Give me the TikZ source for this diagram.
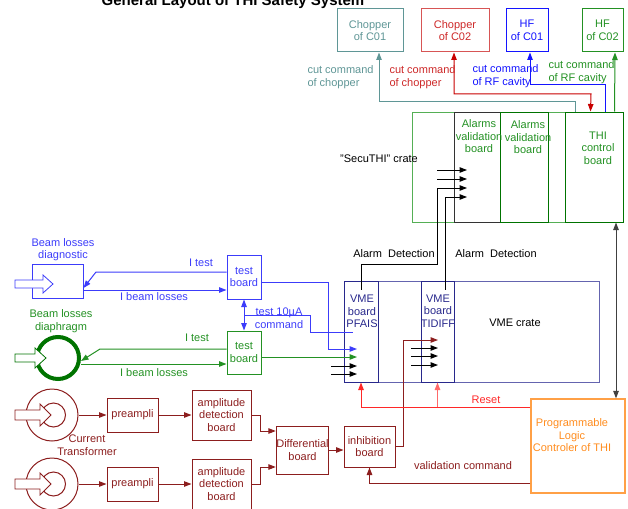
\documentclass[tikz,border=0pt]{standalone}
\usepackage{fontspec}
\setmainfont{Liberation Sans}
\usetikzlibrary{arrows.meta,positioning}

\definecolor{cteal}{RGB}{95,150,150}
\definecolor{cred}{RGB}{205,40,40}
\definecolor{credbox}{RGB}{215,85,85}
\definecolor{cdarkred}{RGB}{200,0,0}
\definecolor{cblue}{RGB}{20,20,255}
\definecolor{cbeam}{RGB}{60,60,250}
\definecolor{cgreen}{RGB}{35,145,35}
\definecolor{cdkgreen}{RGB}{0,115,0}
\definecolor{clgreen}{RGB}{85,175,85}
\definecolor{cnavy}{RGB}{40,40,140}
\definecolor{cvme}{RGB}{100,100,175}
\definecolor{cmaroon}{RGB}{140,30,30}
\definecolor{corange}{RGB}{255,160,70}
\definecolor{ctorange}{RGB}{255,140,30}
\definecolor{creset}{RGB}{255,40,40}

\begin{document}
\begin{tikzpicture}[x=1pt, y=-1pt, line width=1pt,
    font=\fontsize{11}{12.5}\selectfont,
    >={Triangle[length=7.5pt,width=5.5pt]},
    box/.style={draw, inner sep=0pt, align=center},
    txt/.style={align=center, inner sep=0pt}]
    \useasboundingbox (0,0) rectangle (628,508);

    \node[font=\fontsize{15}{17}\selectfont\bfseries, anchor=base] (title) at (233,6) {General Layout of THI Safety System};

    \node[box, draw=cteal, text=cteal, minimum width=66, minimum height=43] (chc1) at (370,30.5) {Chopper\\of C01};
    \node[box, draw=credbox, text=cred, minimum width=68, minimum height=43] (chc2) at (455,30.5) {Chopper\\of C02};
    \node[box, draw=cblue, text=cblue, minimum width=42, minimum height=43] (hfc1) at (527,30.5) {HF\\of C01};
    \node[box, draw=cgreen, text=cgreen, minimum width=41, minimum height=43] (hfc2) at (602.5,30.5) {HF\\of C02};

    \node[box, draw=clgreen, minimum width=211, minimum height=110] (secu) at (517.5,167) {};
    \node[box, draw=black!80, minimum width=46, minimum height=110] (avb1) at (477,167) {};
    \node[box, draw=cdkgreen, minimum width=48, minimum height=110] (avb2) at (524,167) {};
    \node[box, draw=cdkgreen, minimum width=58, minimum height=110] (thi) at (594,167) {};
    \node[txt, text=cgreen] (avb1t) at (479,136.5) {Alarms\\validation\\board};
    \node[txt, text=cgreen] (avb2t) at (528,137.5) {Alarms\\validation\\board};
    \node[txt, text=cgreen] (thit) at (598,148) {THI\\control\\board};
    \node[txt] (secut) at (379,159) {"SecuTHI" crate};

    \draw[->, cteal] ([xshift=11pt]thi.north west) |- (379,102) -- ([xshift=9pt]chc1.south);
    \draw[<->, cdarkred] ([xshift=-1pt]chc2.south) |- (591,94) -- ([xshift=26pt]thi.north west);
    \draw[->, cblue] ([xshift=41pt]thi.north west) |- (530,85) -- ([xshift=3pt]hfc1.south);
    \draw[->, cgreen] ([xshift=50pt]thi.north west) -- ([xshift=12.5pt]hfc2.south);
    \node[txt, align=left, anchor=west, text=cteal] (cut1) at (307,77) {cut command\\of chopper};
    \node[txt, align=left, anchor=west, text=cred] (cut2) at (389,77) {cut command\\of chopper};
    \node[txt, align=left, anchor=west, text=cblue] (cut3) at (472,76) {cut command\\of RF cavity};
    \node[txt, align=left, anchor=west, text=cgreen] (cut4) at (548,72) {cut command\\of RF cavity};

    \node[box, draw=cvme, minimum width=255, minimum height=101] (vme) at (471.5,331.5) {};
    \node[box, draw=cnavy, minimum width=34, minimum height=101] (pfais) at (361,331.5) {};
    \node[box, draw=cnavy, minimum width=33, minimum height=101] (tidiff) at (437.5,331.5) {};
    \node[txt, text=cnavy] (pfaist) at (362,311.5) {VME\\board\\PFAIS};
    \node[txt, text=cnavy] (tidifft) at (438,311) {VME\\board\\TIDIFF};
    \node[txt] (vmet) at (515,323) {VME crate};

    \foreach \n/\y in {1/170,2/179,3/188,4/197} \coordinate (av\n) at (467,\y);
    \foreach \n/\y in {1/349,2/357,3/366,4/374} \coordinate (pf\n) at (357,\y);
    \foreach \n/\y in {1/340,2/348,3/356,4/365} \coordinate (td\n) at (438,\y);

    \draw[->] (437,170) -- (av1);
    \draw[->] (437,179) -- (av2);
    \draw[->] ([yshift=-9pt]pfais.north) |- (437,264) |- (av3);
    \draw[->] ([xshift=8pt,yshift=-9pt]tidiff.north) |- (av4);
    \node (alt1) at (394,254) {Alarm~ Detection};
    \node (alt2) at (496,254) {Alarm~ Detection};

    \node[box, draw=corange, line width=1.2pt, minimum width=94, minimum height=94] (plc) at (578,446) {};
    \node[txt, text=ctorange] (plct) at (572,435.5) {Programmable\\Logic\\Controler of THI};
    \draw[<->, black!75] (616,0 |- thi.south) -- (616,0 |- plc.north);

    \node[box, draw=cbeam, minimum width=51, minimum height=34] (bld) at (57.5,281) {};
    \node[txt, text=cbeam] (bldt) at (63,249.5) {Beam losses\\diagnostic};
    \draw[cbeam, line width=0.8pt, fill=white] (15,280) -- (43,280) -- (43,275) -- (53,284) -- (43,293) -- (43,288) -- (15,288) -- cycle;

    \node[circle, draw=cdkgreen, line width=4pt, minimum size=42] (bld2) at (58,358) {};
    \node[txt, text=cgreen] (bld2t) at (61,321) {Beam losses\\diaphragm};
    \draw[cdkgreen, line width=0.8pt, fill=white] (15,354) -- (35,354) -- (35,348) -- (46,358) -- (35,368) -- (35,362) -- (15,362) -- cycle;

    \node[box, draw=cbeam, text=cbeam, minimum width=34, minimum height=44] (tb1) at (244,277) {test\\board};
    \node[box, draw=cgreen, text=cgreen, minimum width=34, minimum height=43] (tb2) at (244,352.5) {test\\board};

    \draw[->, cbeam] ([yshift=5pt]tb1.west) -- (96,272) -- ([yshift=-7pt]bld.east);
    \draw[->, cbeam] ([yshift=-9pt]bld.east) -- ([yshift=-13pt]tb1.west);
    \node[text=cbeam] (itest1) at (201,263) {I test};
    \node[text=cbeam] (ibeam1) at (154,297) {I beam losses};
    \draw[->, cgreen] ([yshift=3.5pt]tb2.west) -- (100,349) -- ([yshift=-3pt]bld2.east);
    \draw[->, cgreen] ([yshift=-6pt]bld2.east) -- ([yshift=-11.5pt]tb2.west);
    \node[text=cgreen] (itest2) at (197,338) {I test};
    \node[text=cgreen] (ibeam2) at (154,373) {I beam losses};

    \draw[<->, cbeam] (tb1.south) -- (tb2.north);
    \draw[cbeam] (tb1.south |- 0,315) -| (310,332) -- (353,332);
    \node[txt, text=cbeam] (cmdt) at (279,318) {test 10µA\\command};
    \draw[->, cbeam] ([yshift=-5pt]tb1.east) -- ++(67,0) |- (pf1);
    \draw[->, cgreen] ([yshift=-4.5pt]tb2.east) -- (pf2);
    \draw[->] (331,366) -- (pf3);
    \draw[->] (331,374) -- (pf4);

    \foreach \i/\y in {1/415,2/484} {
        \node[circle, draw=cmaroon, minimum size=52] (ct\i) at (52,\y) {};
        \node[circle, draw=cmaroon, minimum size=24] (ct\i c) at (53.5,\y) {};
        \draw[cmaroon, line width=0.8pt, fill=white] (15,\y-5) -- (40,\y-5) -- (40,\y-11) -- (51,\y) -- (40,\y+11) -- (40,\y+5) -- (15,\y+5) -- cycle;
        \node[box, draw=cmaroon, text=cmaroon, minimum width=51, minimum height=34] (pre\i) at (132.5,\y) {preampli};
        \node[box, draw=cmaroon, text=cmaroon, minimum width=59, minimum height=50] (amp\i) at (221.5,\y) {amplitude\\detection\\board};
        \draw[->, cmaroon] (ct\i.east) -- (pre\i.west);
        \draw[->, cmaroon] (pre\i.east) -- (amp\i.west);
    }
    \node[txt, text=cmaroon] (ctt) at (87,445) {Current\\Transformer};

    \node[box, draw=cmaroon, text=cmaroon, minimum width=51, minimum height=48] (diff) at (302.5,450) {Differential\\board};
    \node[box, draw=cmaroon, text=cmaroon, minimum width=51, minimum height=41] (inh) at (369.5,446.5) {inhibition\\board};
    \draw[->, cmaroon] (amp1.east) -- ++(9,0) |- ([yshift=19pt]diff.west);
    \draw[->, cmaroon] (amp2.east) -- ++(9,0) |- ([yshift=-17pt]diff.west);
    \draw[->, cmaroon] (diff.east) -- (diff.east -| inh.west);
    \draw[->, cmaroon] (inh.east) -- ++(8,0) |- (td1);
    \draw[->] (411,348) -- (td2);
    \draw[->] (411,356) -- (td3);
    \draw[->] (411,365) -- (td4);

    \draw[->, creset] ([yshift=39pt]plc.west) -| (pfais.south);
    \draw[->, creset!70] (tidiff.south |- 0,407) -- (tidiff.south);
    \node[text=creset] (resett) at (486,400) {Reset};
    \draw[->, cmaroon] ([yshift=-37pt]plc.west) -| (inh.south);
    \node[text=cmaroon] (valt) at (463,466) {validation command};
\end{tikzpicture}
\end{document}
